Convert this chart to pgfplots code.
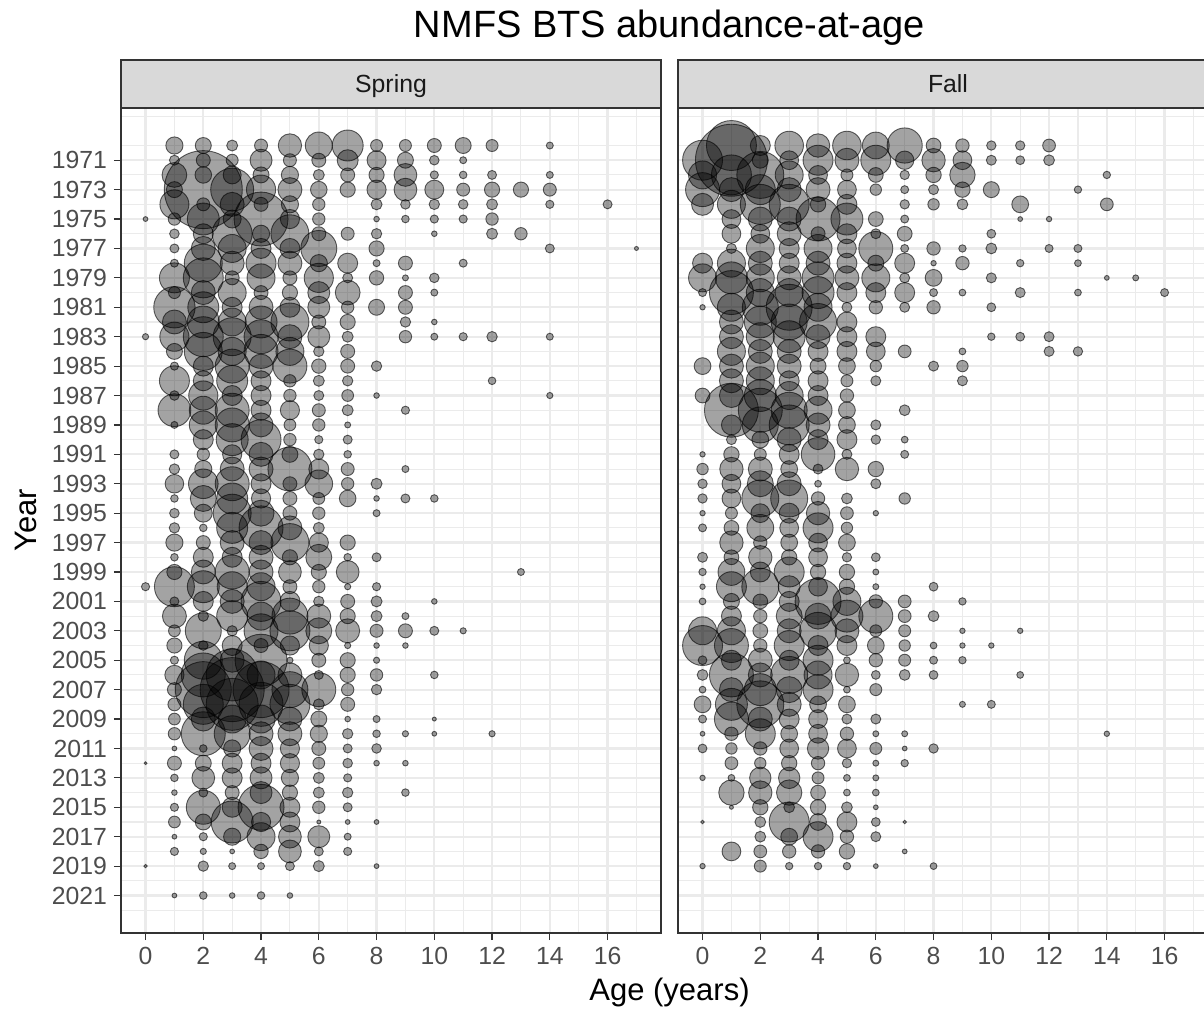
\documentclass[border=0pt]{standalone}
\usepackage{fontspec}
\setmainfont{Liberation Sans}
\usepackage{pgfplots}
\usepackage{pgfplotstable}
\pgfplotsset{compat=1.18}
\definecolor{gridc}{HTML}{EBEBEB}
\definecolor{g20}{HTML}{333333}
\definecolor{g30}{HTML}{4D4D4D}
\definecolor{stripc}{HTML}{D9D9D9}

% r = bubble radius (px); area ~ abundance
\pgfplotstableread[row sep=\\]{
age year r\\
1 1970 8.6\\ 2 1970 8\\ 3 1970 5.5\\ 4 1970 6.5\\ 5 1970 11.7\\ 6 1970 13.5\\ 7 1970 15.5\\ 8 1970 6\\ 9 1970 6\\ 10 1970 7\\ 11 1970 8\\ 12 1970 6\\ 14 1970 3.5\\
1 1971 5\\ 2 1971 7\\ 3 1971 6\\ 4 1971 11\\ 5 1971 6.5\\ 6 1971 7\\ 7 1971 10.5\\ 8 1971 9.5\\ 9 1971 8\\ 10 1971 4.8\\ 11 1971 3.5\\
1 1972 12.4\\ 2 1972 8.3\\ 3 1972 9\\ 4 1972 8\\ 5 1972 8.6\\ 6 1972 5.5\\ 7 1972 7\\ 8 1972 7.6\\ 9 1972 11.4\\ 10 1972 4.1\\ 11 1972 3.8\\ 12 1972 4.5\\ 14 1972 3.5\\
1 1973 8\\ 2 1973 39\\ 3 1973 21.5\\ 4 1973 14.6\\ 5 1973 12\\ 6 1973 8.3\\ 7 1973 7.6\\ 8 1973 9.6\\ 9 1973 11.4\\ 10 1973 9.5\\ 11 1973 6.5\\ 12 1973 7.6\\ 13 1973 7.6\\ 14 1973 6.5\\
1 1974 14.5\\ 2 1974 6.5\\ 3 1974 12\\ 4 1974 7\\ 5 1974 8.6\\ 6 1974 6.2\\ 8 1974 5.5\\ 9 1974 4.8\\ 10 1974 5.2\\ 11 1974 4.8\\ 12 1974 5.5\\ 14 1974 4.1\\ 16 1974 4.5\\
0 1975 2.4\\ 1 1975 6.2\\ 2 1975 16\\ 3 1975 9\\ 4 1975 27\\ 5 1975 9.6\\ 6 1975 6.2\\ 8 1975 2.8\\ 9 1975 3.8\\ 10 1975 4.1\\ 11 1975 4.1\\ 12 1975 6.2\\
1 1976 4.8\\ 2 1976 10\\ 3 1976 20\\ 4 1976 8.6\\ 5 1976 19\\ 6 1976 7\\ 7 1976 6.5\\ 8 1976 5.2\\ 10 1976 2.8\\ 12 1976 5.5\\ 13 1976 6.2\\
1 1977 4.5\\ 2 1977 12\\ 3 1977 14\\ 4 1977 10\\ 5 1977 10\\ 6 1977 18\\ 8 1977 7.6\\ 14 1977 4.5\\ 17 1977 2\\
1 1978 4\\ 2 1978 19\\ 3 1978 12\\ 4 1978 15\\ 5 1978 12\\ 6 1978 8.6\\ 7 1978 10\\ 8 1978 3.5\\ 9 1978 7\\ 11 1978 4\\
1 1979 15\\ 2 1979 20\\ 3 1979 7\\ 4 1979 14\\ 5 1979 7\\ 6 1979 14.6\\ 7 1979 5\\ 8 1979 7.2\\ 9 1979 3\\ 10 1979 4.8\\
1 1980 6\\ 2 1980 12\\ 3 1980 14\\ 4 1980 7\\ 5 1980 7.6\\ 6 1980 11\\ 7 1980 12.4\\ 9 1980 7\\ 10 1980 3.5\\
1 1981 20.7\\ 2 1981 15.5\\ 3 1981 10\\ 4 1981 12\\ 5 1981 10\\ 6 1981 11\\ 7 1981 6.2\\ 8 1981 8\\ 9 1981 7\\
1 1982 12\\ 2 1982 16\\ 3 1982 14\\ 4 1982 16\\ 5 1982 19\\ 6 1982 7\\ 7 1982 7.6\\ 9 1982 5.2\\ 10 1982 2.8\\
0 1983 3.1\\ 1 1983 14.6\\ 2 1983 20\\ 3 1983 19\\ 4 1983 17\\ 5 1983 12\\ 6 1983 11\\ 7 1983 5.5\\ 9 1983 6.2\\ 10 1983 3.5\\ 11 1983 4.1\\ 12 1983 5.2\\ 14 1983 3.5\\
1 1984 8\\ 2 1984 19\\ 3 1984 14\\ 4 1984 17\\ 5 1984 14\\ 6 1984 5.2\\ 7 1984 7\\
1 1985 4.1\\ 2 1985 10\\ 3 1985 17\\ 4 1985 12\\ 5 1985 17\\ 6 1985 7.2\\ 7 1985 7\\ 8 1985 5.2\\
1 1986 15\\ 2 1986 10\\ 3 1986 15.5\\ 4 1986 10\\ 5 1986 6.2\\ 6 1986 5.5\\ 7 1986 5.2\\ 12 1986 3.8\\
1 1987 4.8\\ 2 1987 14.6\\ 3 1987 10\\ 4 1987 10\\ 5 1987 6.2\\ 6 1987 5\\ 7 1987 5.9\\ 8 1987 2.8\\ 14 1987 3.1\\
1 1988 16.4\\ 2 1988 14\\ 3 1988 17\\ 4 1988 10\\ 5 1988 9.6\\ 6 1988 6.5\\ 7 1988 5.5\\ 9 1988 4.1\\
1 1989 3.5\\ 2 1989 14\\ 3 1989 17\\ 4 1989 12\\ 5 1989 5.9\\ 6 1989 6.2\\ 7 1989 3\\
2 1990 10\\ 3 1990 16\\ 4 1990 20\\ 5 1990 6.2\\ 6 1990 4.1\\ 7 1990 4.5\\
1 1991 4.5\\ 2 1991 6.2\\ 3 1991 9.6\\ 4 1991 12\\ 5 1991 8\\ 6 1991 5.2\\ 7 1991 3.8\\
1 1992 5.2\\ 2 1992 8.6\\ 3 1992 12\\ 4 1992 12\\ 5 1992 22\\ 6 1992 10\\ 7 1992 6.5\\ 9 1992 3.5\\
1 1993 9.3\\ 2 1993 14.8\\ 3 1993 17\\ 4 1993 10\\ 5 1993 7\\ 6 1993 13.8\\ 7 1993 6.2\\ 8 1993 5.5\\
1 1994 3.8\\ 2 1994 13\\ 3 1994 15.5\\ 4 1994 9.6\\ 5 1994 7\\ 6 1994 5.9\\ 7 1994 8.3\\ 8 1994 2.8\\ 9 1994 4.5\\ 10 1994 3.8\\
1 1995 4.8\\ 2 1995 9\\ 3 1995 19\\ 4 1995 13\\ 5 1995 7\\ 6 1995 6.2\\ 8 1995 3.5\\
1 1996 5.2\\ 2 1996 3.8\\ 3 1996 15.5\\ 4 1996 22\\ 5 1996 12\\ 6 1996 5.5\\
1 1997 8.6\\ 2 1997 7\\ 3 1997 12\\ 4 1997 12\\ 5 1997 19\\ 6 1997 9.6\\ 7 1997 7.6\\
1 1998 3.8\\ 2 1998 10\\ 3 1998 10\\ 4 1998 12\\ 5 1998 7.6\\ 6 1998 13\\ 7 1998 3.8\\ 8 1998 4.5\\
1 1999 7.6\\ 2 1999 12\\ 3 1999 17\\ 4 1999 12\\ 5 1999 11.4\\ 6 1999 7.6\\ 7 1999 11.4\\ 13 1999 3.5\\
0 2000 4.1\\ 1 2000 20\\ 2 2000 16\\ 3 2000 15\\ 4 2000 14\\ 5 2000 7\\ 6 2000 6.2\\ 7 2000 3.1\\ 8 2000 4.1\\
1 2001 4.5\\ 2 2001 10\\ 3 2001 12\\ 4 2001 20\\ 5 2001 10\\ 6 2001 5.2\\ 7 2001 7\\ 8 2001 5.5\\ 10 2001 2.8\\
1 2002 12\\ 2 2002 5.2\\ 3 2002 15.5\\ 4 2002 14\\ 5 2002 18\\ 6 2002 12\\ 7 2002 7.6\\ 8 2002 5.5\\ 9 2002 3.5\\
1 2003 5.9\\ 2 2003 18\\ 3 2003 5.2\\ 4 2003 17\\ 5 2003 20\\ 6 2003 13\\ 7 2003 12\\ 8 2003 6.5\\ 9 2003 7\\ 10 2003 4.5\\ 11 2003 3.1\\
1 2004 7.6\\ 2 2004 4.8\\ 3 2004 10\\ 4 2004 7\\ 5 2004 9.6\\ 6 2004 9.6\\ 7 2004 3.1\\ 8 2004 2.8\\ 9 2004 2.8\\
1 2005 4.1\\ 2 2005 19\\ 3 2005 12\\ 4 2005 26\\ 5 2005 3.1\\ 6 2005 7\\ 7 2005 7.6\\ 8 2005 3.1\\
1 2006 9.6\\ 2 2006 22\\ 3 2006 26\\ 4 2006 14\\ 5 2006 12\\ 6 2006 4.5\\ 7 2006 7.6\\ 8 2006 6.2\\ 10 2006 3.8\\
1 2007 7\\ 2 2007 28\\ 3 2007 32\\ 4 2007 28\\ 5 2007 18\\ 6 2007 17\\ 7 2007 6.2\\ 8 2007 5.2\\
1 2008 6.5\\ 2 2008 20\\ 3 2008 26\\ 4 2008 22\\ 5 2008 20\\ 6 2008 5.5\\ 7 2008 7\\
1 2009 5.9\\ 2 2009 12\\ 3 2009 14\\ 4 2009 14\\ 5 2009 12\\ 6 2009 8\\ 7 2009 2.8\\ 8 2009 3.5\\ 10 2009 2\\
1 2010 6.2\\ 2 2010 22\\ 3 2010 18\\ 4 2010 12\\ 5 2010 12\\ 6 2010 8.6\\ 7 2010 5.2\\ 8 2010 3.8\\ 9 2010 3.1\\ 10 2010 2.4\\ 12 2010 3.1\\
1 2011 2.4\\ 2 2011 3.8\\ 3 2011 8.6\\ 4 2011 12\\ 5 2011 9.6\\ 6 2011 7\\ 7 2011 4.5\\ 8 2011 4.8\\
0 2012 1.4\\ 1 2012 7\\ 2 2012 8\\ 3 2012 10\\ 4 2012 10\\ 5 2012 9.6\\ 6 2012 5.9\\ 7 2012 4.8\\ 8 2012 2.8\\ 9 2012 2.8\\
1 2013 3.8\\ 2 2013 11.4\\ 3 2013 10\\ 4 2013 11\\ 5 2013 8.6\\ 6 2013 5.5\\ 7 2013 4.1\\
1 2014 2.8\\ 2 2014 4.5\\ 3 2014 7\\ 4 2014 11\\ 5 2014 7.6\\ 6 2014 5.5\\ 7 2014 5.2\\ 9 2014 3.8\\
1 2015 4.1\\ 2 2015 17\\ 3 2015 10\\ 4 2015 23\\ 5 2015 10\\ 6 2015 6.2\\ 7 2015 4.5\\
1 2016 5.9\\ 2 2016 8\\ 3 2016 21\\ 4 2016 9.6\\ 5 2016 10\\ 6 2016 2\\ 7 2016 2.4\\ 8 2016 2.4\\
1 2017 2.4\\ 2 2017 4.1\\ 3 2017 8.6\\ 4 2017 14\\ 5 2017 11.4\\ 6 2017 11\\ 7 2017 3.5\\
1 2018 4.1\\ 2 2018 3.1\\ 3 2018 2.4\\ 4 2018 7.2\\ 5 2018 11.4\\ 6 2018 4.5\\ 7 2018 4.1\\
0 2019 1.7\\ 2 2019 5.2\\ 3 2019 3.5\\ 4 2019 3.5\\ 5 2019 4.5\\ 6 2019 5.5\\ 8 2019 2.4\\
1 2021 2.4\\ 2 2021 3.8\\ 3 2021 2.8\\ 4 2021 3.8\\ 5 2021 2.8\\
}\spring

\pgfplotstableread[row sep=\\]{
age year r\\
1 1970 25\\ 2 1970 10\\ 3 1970 14.3\\ 4 1970 11.7\\ 5 1970 14.3\\ 6 1970 13.4\\ 7 1970 17.6\\ 8 1970 7.4\\ 9 1970 6.7\\ 10 1970 4.7\\ 11 1970 4.7\\ 12 1970 6.4\\
0 1971 20\\ 1 1971 36\\ 2 1971 8\\ 3 1971 9.4\\ 4 1971 15\\ 5 1971 12\\ 6 1971 15\\ 7 1971 9.2\\ 8 1971 11.7\\ 9 1971 9.4\\ 10 1971 5\\ 11 1971 4.4\\ 12 1971 5.4\\
0 1972 14\\ 1 1972 20\\ 2 1972 23.5\\ 3 1972 14\\ 4 1972 9.4\\ 5 1972 6\\ 6 1972 7.4\\ 7 1972 4.7\\ 8 1972 7.7\\ 9 1972 12.7\\ 14 1972 3.7\\
0 1973 17\\ 1 1973 12\\ 2 1973 15\\ 3 1973 12\\ 4 1973 12\\ 5 1973 9.4\\ 6 1973 5.7\\ 7 1973 4\\ 8 1973 5\\ 9 1973 7.7\\ 10 1973 8\\ 13 1973 3.7\\
0 1974 11\\ 1 1974 14\\ 2 1974 20\\ 3 1974 20\\ 4 1974 7.7\\ 5 1974 10\\ 7 1974 4.7\\ 8 1974 5.7\\ 9 1974 5.4\\ 11 1974 8.4\\ 14 1974 6.4\\
1 1975 9.4\\ 2 1975 12\\ 3 1975 12\\ 4 1975 22\\ 5 1975 16\\ 6 1975 7.4\\ 7 1975 4\\ 11 1975 2.4\\ 12 1975 2.7\\
1 1976 9.4\\ 2 1976 9.4\\ 3 1976 12\\ 4 1976 7\\ 5 1976 10\\ 6 1976 5\\ 7 1976 7.4\\ 10 1976 4.4\\
1 1977 5\\ 2 1977 14\\ 3 1977 10\\ 4 1977 14\\ 5 1977 9.4\\ 6 1977 17\\ 7 1977 4\\ 8 1977 6.7\\ 9 1977 3.7\\ 10 1977 5.4\\ 12 1977 4\\ 13 1977 4\\
0 1978 10\\ 1 1978 14\\ 2 1978 12\\ 3 1978 10\\ 4 1978 12\\ 5 1978 10\\ 6 1978 8\\ 7 1978 10\\ 8 1978 2.7\\ 9 1978 6.7\\ 11 1978 3.7\\ 13 1978 3.4\\
0 1979 14\\ 1 1979 16\\ 2 1979 14\\ 3 1979 12\\ 4 1979 16\\ 5 1979 12\\ 6 1979 14\\ 7 1979 5\\ 8 1979 8.4\\ 10 1979 5\\ 14 1979 2.4\\ 15 1979 3\\
0 1980 4\\ 1 1980 22\\ 2 1980 14\\ 3 1980 14\\ 4 1980 16\\ 5 1980 10\\ 6 1980 10\\ 7 1980 10\\ 8 1980 4\\ 9 1980 3.4\\ 11 1980 5\\ 13 1980 3.4\\ 16 1980 4\\
0 1981 2.7\\ 1 1981 14\\ 2 1981 18\\ 3 1981 23\\ 4 1981 14\\ 5 1981 5\\ 6 1981 6.7\\ 7 1981 5\\ 8 1981 6.7\\ 10 1981 4.4\\
1 1982 12\\ 2 1982 16\\ 3 1982 18\\ 4 1982 18.5\\ 5 1982 10\\
1 1983 12\\ 2 1983 14\\ 3 1983 16\\ 4 1983 12\\ 5 1983 10\\ 6 1983 10\\ 10 1983 3.7\\ 11 1983 4.4\\ 12 1983 5\\
1 1984 14\\ 2 1984 12\\ 3 1984 12\\ 4 1984 10\\ 5 1984 10\\ 6 1984 9.4\\ 7 1984 6.4\\ 9 1984 3.4\\ 12 1984 5\\ 13 1984 4.7\\
0 1985 8.4\\ 1 1985 12\\ 2 1985 14\\ 3 1985 12\\ 4 1985 8\\ 5 1985 8.4\\ 6 1985 5.7\\ 8 1985 5\\ 9 1985 5.7\\
1 1986 12\\ 2 1986 14\\ 3 1986 10\\ 4 1986 10\\ 5 1986 6\\ 6 1986 5\\ 9 1986 5\\
0 1987 7.4\\ 1 1987 12\\ 2 1987 16\\ 3 1987 14\\ 4 1987 10\\ 5 1987 6.7\\
1 1988 27\\ 2 1988 22\\ 3 1988 18\\ 4 1988 14\\ 5 1988 8.4\\ 7 1988 5.4\\
1 1989 10\\ 2 1989 18\\ 3 1989 20\\ 4 1989 12\\ 5 1989 8.4\\ 6 1989 5\\
1 1990 5\\ 2 1990 8.4\\ 3 1990 12\\ 4 1990 10\\ 5 1990 10\\ 6 1990 4.7\\ 7 1990 3.4\\
0 1991 2.7\\ 1 1991 7.7\\ 2 1991 6\\ 3 1991 10\\ 4 1991 16.8\\ 5 1991 5\\ 7 1991 4\\
0 1992 5.7\\ 1 1992 11.7\\ 2 1992 12\\ 3 1992 8.4\\ 4 1992 5\\ 5 1992 11.7\\ 6 1992 7.7\\
0 1993 4.7\\ 1 1993 9.4\\ 2 1993 13\\ 3 1993 12\\ 4 1993 3.4\\ 6 1993 5\\
0 1994 4.7\\ 1 1994 9.4\\ 2 1994 18.5\\ 3 1994 18.5\\ 4 1994 6.7\\ 5 1994 5.4\\ 7 1994 5.7\\
0 1995 2.7\\ 1 1995 6\\ 2 1995 9.4\\ 3 1995 10\\ 4 1995 11.7\\ 5 1995 6.4\\ 6 1995 2.7\\
0 1996 4\\ 1 1996 7.4\\ 2 1996 13.4\\ 3 1996 9.4\\ 4 1996 15\\ 5 1996 5.7\\
1 1997 11.7\\ 2 1997 6.7\\ 3 1997 8.4\\ 4 1997 9.4\\ 5 1997 8.4\\
0 1998 5\\ 1 1998 7.4\\ 2 1998 11.7\\ 3 1998 7.7\\ 4 1998 9.4\\ 5 1998 4.7\\ 6 1998 4.4\\
0 1999 3.7\\ 1 1999 13.4\\ 2 1999 10\\ 3 1999 15\\ 4 1999 7.7\\ 5 1999 7.7\\ 6 1999 3\\
0 2000 2.7\\ 1 2000 15\\ 2 2000 18.5\\ 3 2000 11\\ 4 2000 9.4\\ 5 2000 7.7\\ 6 2000 3\\ 8 2000 4.4\\
0 2001 3.4\\ 1 2001 8\\ 2 2001 7.4\\ 3 2001 10\\ 4 2001 23\\ 5 2001 14\\ 6 2001 6.7\\ 7 2001 6.4\\ 9 2001 3.7\\
1 2002 10\\ 2 2002 6.7\\ 3 2002 13\\ 4 2002 13\\ 5 2002 16\\ 6 2002 17\\ 7 2002 6.4\\ 8 2002 5.4\\
0 2003 14\\ 1 2003 14\\ 2 2003 7.4\\ 3 2003 12\\ 4 2003 18.5\\ 5 2003 12\\ 6 2003 6\\ 7 2003 6\\ 9 2003 2.7\\ 11 2003 2.7\\
0 2004 20\\ 1 2004 17\\ 2 2004 6.7\\ 3 2004 15\\ 4 2004 10\\ 5 2004 10\\ 6 2004 8.4\\ 7 2004 5.7\\ 8 2004 3.4\\ 9 2004 2.7\\ 10 2004 2.7\\
0 2005 4.4\\ 1 2005 10\\ 2 2005 12\\ 3 2005 10\\ 4 2005 15\\ 5 2005 3.4\\ 6 2005 6.7\\ 7 2005 6\\ 8 2005 4\\ 9 2005 3.7\\
0 2006 5.4\\ 1 2006 22\\ 2 2006 12\\ 3 2006 18.5\\ 4 2006 14\\ 5 2006 11.7\\ 6 2006 4.4\\ 7 2006 5.4\\ 8 2006 4.4\\ 11 2006 3.4\\
0 2007 3.4\\ 1 2007 12\\ 2 2007 16\\ 3 2007 13\\ 4 2007 15\\ 5 2007 3.4\\ 6 2007 6\\
0 2008 8.4\\ 1 2008 16\\ 2 2008 23.5\\ 3 2008 12\\ 4 2008 8.4\\ 5 2008 8.4\\ 9 2008 3\\ 10 2008 4\\
0 2009 4\\ 1 2009 17\\ 2 2009 12\\ 3 2009 10\\ 4 2009 9.4\\ 5 2009 5\\ 6 2009 5\\
0 2010 2.4\\ 1 2010 6.7\\ 2 2010 15\\ 3 2010 8.4\\ 4 2010 9.4\\ 5 2010 6.7\\ 6 2010 3\\ 7 2010 3\\ 14 2010 2.7\\
0 2011 4.4\\ 1 2011 5.7\\ 2 2011 6.7\\ 3 2011 9.4\\ 4 2011 10.7\\ 5 2011 9.4\\ 6 2011 6\\ 7 2011 2.4\\ 8 2011 4.7\\
1 2012 6.4\\ 2 2012 5.7\\ 3 2012 7.7\\ 4 2012 6.7\\ 5 2012 4.7\\ 6 2012 3\\ 7 2012 3.7\\
0 2013 2.7\\ 1 2013 3.4\\ 2 2013 10.7\\ 3 2013 10.7\\ 4 2013 6\\ 5 2013 3.4\\ 6 2013 3\\
1 2014 12.7\\ 2 2014 11.7\\ 3 2014 12.7\\ 4 2014 7.4\\ 5 2014 3.4\\ 6 2014 3.4\\
1 2015 2\\ 2 2015 7.7\\ 3 2015 5.4\\ 4 2015 7.7\\ 5 2015 5.4\\ 6 2015 2.4\\
0 2016 1.7\\ 2 2016 5.4\\ 3 2016 20\\ 4 2016 8.4\\ 5 2016 10\\ 6 2016 4.4\\ 7 2016 1.7\\
2 2017 5.4\\ 3 2017 8.4\\ 4 2017 15\\ 5 2017 6.7\\ 6 2017 5\\
1 2018 9.4\\ 2 2018 6.4\\ 3 2018 6.7\\ 4 2018 6.7\\ 5 2018 7.7\\ 7 2018 2.4\\
0 2019 2.7\\ 2 2019 6\\ 3 2019 3.7\\ 4 2019 3.7\\ 5 2019 3.7\\ 6 2019 2.4\\ 8 2019 3.4\\
}\fall

\pgfplotsset{
  panel/.style={
    width=270pt, height=412.5pt, scale only axis, anchor=north west,
    xmin=-0.85, xmax=17.85, ymin=1967.45, ymax=2023.55, y dir=reverse,
    xtick={0,2,...,16}, minor xtick={1,3,...,17},
    ytick={1971,1973,...,2021}, minor ytick={1968,1970,...,2022},
    grid=both,
    major grid style={gridc, line width=1.1pt},
    minor grid style={gridc, line width=0.55pt},
    axis line style={g20, line width=0.8pt},
    tick align=outside, major tick length=3.5pt, minor tick length=0pt,
    tick style={g20, line width=0.6pt},
    xtick pos=left, ytick pos=left,
    tick label style={font=\fontsize{12.4}{14}\selectfont, text=g30},
    /pgf/number format/assume math mode=true,
    /pgf/number format/1000 sep={},
    clip marker paths=true,
  },
  bub/.style={scatter, only marks, mark=*,
    scatter/use mapped color={draw=black, fill=black},
    mark options={fill opacity=0.36, draw opacity=0.6, line width=0.45pt},
    visualization depends on={0.5*\thisrow{r} \as \rad},
    scatter/@pre marker code/.append style={/tikz/mark size=\rad pt}},
}

\begin{document}
\begin{tikzpicture}
\path[use as bounding box] (0,0) rectangle (602pt,-506.5pt);
\clip (0,0) rectangle (602pt,-506.5pt);

\begin{axis}[panel, at={(60.5pt,-54pt)}]
\addplot[bub] table[x=age, y=year] {\spring};
\end{axis}

\begin{axis}[panel, at={(339pt,-54pt)}, yticklabels={}, ytick style={draw=none}]
\addplot[bub] table[x=age, y=year] {\fall};
\end{axis}

% strips
\draw[g20, line width=0.8pt, fill=stripc] (60.5pt,-30pt) rectangle (330.5pt,-54pt);
\draw[g20, line width=0.8pt, fill=stripc] (339pt,-30pt) rectangle (609pt,-54pt);
\node[anchor=base, font=\fontsize{12.4}{14}\selectfont, text=black!90] at (195.5pt,-46.3pt) {Spring};
\node[anchor=base, font=\fontsize{12.4}{14}\selectfont, text=black!90] at (474pt,-46.3pt) {Fall};

% titles
\node[anchor=base, font=\fontsize{19}{22}\selectfont] at (334.75pt,-18.5pt) {NMFS BTS abundance-at-age};
\node[anchor=base, font=\fontsize{15.5}{18}\selectfont] at (334.75pt,-500pt) {Age (years)};
\node[anchor=base, rotate=90, font=\fontsize{15.5}{18}\selectfont] at (18pt,-260.25pt) {Year};
\end{tikzpicture}
\end{document}
